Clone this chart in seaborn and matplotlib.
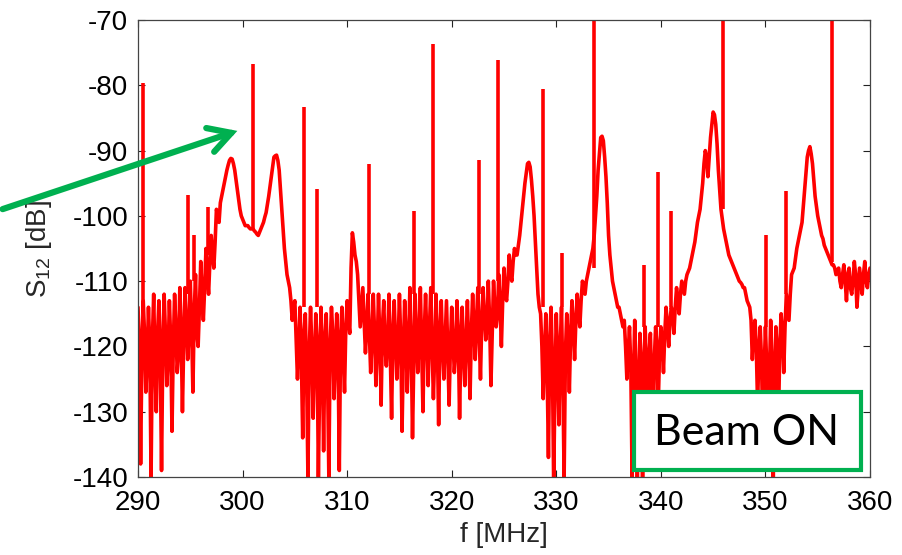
import numpy as np
import pandas as pd
import matplotlib
matplotlib.use("Agg")
import matplotlib.pyplot as plt
from matplotlib.patches import Rectangle, FancyArrowPatch
from matplotlib.transforms import IdentityTransform
import seaborn as sns

# ---- data ----
# samples on the 0.25 MHz grid 290.00 ... 360.00
f_start, f_stop = 290.0, 360.0
s12_db = [
    -114, -138, -113, -127, -114, -140, -112, -130, -113, -139,   # 290.00-292.25
    -112, -126, -113, -133, -112, -124, -111, -130, -111, -122,   # 292.50-294.75
    -110, -127, -109, -120, -107, -116, -105, -112, -103, -108,   # 295.00-297.25
    -99, -101, -97, -95, -93, -91.5, -91.3, -93, -96, -99,        # 297.50-299.75
    -100.5, -101.5, -101.5, -102, -102, -102.5, -103, -102, -101, -99.5,  # 300.00-302.25
    -97, -94, -91, -90.7, -93, -99, -105, -109, -111, -116,       # 302.50-304.75
    -113, -125, -114, -134, -115, -140, -114, -131, -115, -140,   # 305.00-307.25
    -114, -136, -115, -140, -114, -128, -115, -139, -114, -127,   # 307.50-309.75
    -113, -118, -102.6, -106, -109, -117, -111, -121, -112, -124, # 310.00-312.25
    -112, -126, -112, -129, -113, -123, -112, -131, -113, -125,   # 312.50-314.75
    -112, -133, -113, -127, -111, -134, -112, -124, -111, -130,   # 315.00-317.25
    -112, -126, -111, -128, -112, -132, -113, -125, -113, -129,   # 317.50-319.75
    -114, -124, -113, -131, -114, -126, -113, -128, -112, -122,   # 320.00-322.25
    -111, -125, -111, -119, -110, -126, -110, -117, -109, -120,   # 322.50-324.75
    -108, -113, -106, -110, -105, -106, -103, -99, -95, -92,      # 325.00-327.25
    -92.5, -97, -104, -112, -115, -128, -115, -137, -114, -141,   # 327.50-329.75
    -115, -132, -114, -140, -115, -127, -113, -122, -112, -117,   # 330.00-332.25
    -110, -112, -109, -107, -105, -100, -93, -88, -88.5, -94,     # 332.50-334.75
    -103, -108, -111, -113, -114, -116, -116, -125, -117, -140,   # 335.00-337.25
    -116, -141, -118, -141, -117, -132, -118, -136, -117, -129,   # 337.50-339.75
    -117, -124, -114, -120, -114, -118, -111, -115, -110, -112,   # 340.00-342.25
    -109, -108, -106, -104, -101, -99, -95, -90, -94, -88,        # 342.50-344.75
    -84.1, -86, -93, -99, -102, -104, -106, -107, -108, -109,     # 345.00-347.25
    -110, -110.5, -111, -113, -114, -122, -116, -129, -117, -133, # 347.50-349.75
    -117, -137, -116, -140, -117, -131, -115, -124, -112, -116,   # 350.00-352.25
    -109, -108, -105, -103, -101, -96, -91, -89.4, -92, -97,      # 352.50-354.75
    -100, -102, -103.5, -105, -106, -107, -107.5, -109, -108, -111, # 355.00-357.25
    -107.5, -113, -108, -112, -107, -114, -108, -112, -107, -111, # 357.50-359.75
    -108,                                                          # 360.00
]
# samples halfway between, 290.125 ... 359.875
s12_db_mid = [
    -119, -121, -118, -122, -120, -119, -123, -118, -121, -120,   # 290.125-
    -118, -122, -119, -120, -117, -121, -118, -119, -116, -118,   # 292.625-
    -117, -115, -118, -114, -112, -111, -109, -107, -106, -104,   # 295.125-
    -100, -98, -96, -94, -92.2, -91.2, -92, -94.5, -97.5, -100,   # 297.625-
    -101, -101.5, -101.8, -102, -102.3, -102.8, -102.5, -101.5, -100.2, -98.3,  # 300.125-
    -95.5, -92.5, -90.8, -91.5, -96, -102, -107, -110, -113, -114,  # 302.625-
    -119, -120, -122, -118, -124, -121, -120, -123, -119, -125,   # 305.125-
    -121, -119, -124, -120, -118, -122, -120, -119, -121, -117,   # 307.625-
    -116, -108, -104, -107, -113, -114, -116, -117, -118, -119,   # 310.125-
    -118, -120, -119, -117, -120, -119, -121, -118, -119, -120,   # 312.625-
    -119, -121, -118, -120, -119, -122, -118, -119, -120, -118,   # 315.125-
    -119, -117, -120, -121, -119, -118, -120, -119, -121, -120,   # 317.625-
    -119, -121, -118, -120, -121, -119, -120, -118, -117, -116,   # 320.125-
    -118, -116, -115, -117, -116, -118, -114, -115, -114, -113,   # 322.625-
    -112, -110, -109, -107, -106, -104.5, -101, -97, -93.5, -91.8,  # 325.125-
    -94.5, -100, -108, -114, -120, -121, -124, -119, -122, -126,  # 327.625-
    -122, -120, -125, -121, -119, -118, -117, -116, -115, -113,   # 330.125-
    -111, -110, -108, -106, -103, -97, -90.5, -87.8, -91, -98,    # 332.625-
    -106, -110, -112, -114, -115, -117, -120, -121, -123, -126,   # 335.125-
    -124, -127, -122, -125, -124, -121, -126, -122, -120, -121,   # 337.625-
    -119, -118, -117, -116, -115, -114, -113, -112, -111, -110,   # 340.125-
    -108.5, -107, -105, -102.5, -100, -97, -92, -91, -91, -86,    # 342.625-
    -84.5, -89, -96, -100.5, -103, -105, -106.5, -107.5, -108.5, -109.5,  # 345.125-
    -110.2, -111, -112, -113.5, -116, -118, -120, -121, -122, -124,  # 347.625-
    -123, -125, -122, -126, -121, -120, -118, -117, -114, -112,   # 350.125-
    -108.5, -106.5, -104, -102, -98.5, -93.5, -90, -90.5, -94.5, -98.5,  # 352.625-
    -101, -103, -104.5, -105.5, -106.5, -107.5, -108, -108.5, -110, -109,  # 355.125-
    -110, -109, -111, -110, -109, -111, -110, -109, -110, -109,   # 357.625-
]

# narrow carrier lines (spikes)
spike_f    = [290.5, 294.8, 295.4, 296.7, 301.0, 305.9, 307.1, 312.1, 316.4, 318.2, 322.6,
              324.4, 328.7, 330.5, 333.6, 338.4, 339.7, 341.0, 345.9, 350.1, 352.0, 356.4]
spike_top  = [-79.7, -96.8, -102.9, -98.6, -76.7, -83.3, -95.9, -92.1, -99.2, -73.6, -91.4,
              -76.1, -80.6, -105.7, -69.0, -107.6, -93.3, -99.2, -69.0, -102.9, -96.2, -69.0]
spike_base = [-113, -112, -110, -106, -102, -114, -114, -112, -112, -112, -112,
              -110, -114, -114, -108, -117, -117, -114, -99, -117, -112, -107]

x_ticks = [290, 300, 310, 320, 330, 340, 350, 360]
y_ticks = [-140, -130, -120, -110, -100, -90, -80, -70]
x_label = "f [MHz]"
y_label = "S$_{12}$ [dB]"
box_text = "Beam ON"

# ---- figure ----
sns.set_theme(style="ticks")
plt.rcParams["font.family"] = ["Liberation Sans", "DejaVu Sans"]
plt.rcParams["mathtext.fontset"] = "custom"
plt.rcParams["mathtext.rm"] = "Liberation Sans"
plt.rcParams["mathtext.it"] = "Liberation Sans"

W, H = 902, 555
fig = plt.figure(figsize=(W / 100, H / 100), dpi=100)
ax = fig.add_axes([138 / W, 1 - 477 / H, (870 - 138) / W, (477 - 20) / H])

f_main = np.linspace(f_start, f_stop, len(s12_db))
f_mid = np.linspace(f_start + 0.125, f_stop - 0.125, len(s12_db_mid))
df = pd.DataFrame({"f": np.concatenate([f_main, f_mid]),
                   "s12": np.concatenate([s12_db, s12_db_mid])}).sort_values("f")
sns.lineplot(data=df, x="f", y="s12", ax=ax, color="#ff0000", linewidth=2.6,
             estimator=None, sort=False)
ax.vlines(spike_f, spike_base, spike_top, color="#ff0000", linewidth=2.6)

ax.set_xlim(f_start, f_stop)
ax.set_ylim(-140, -70)
ax.set_xticks(x_ticks)
ax.set_yticks(y_ticks)
ax.set_xticklabels([str(t) for t in x_ticks])
ax.set_yticklabels([str(t) for t in y_ticks])
ax.tick_params(direction="in", length=5, width=0.8, top=True, right=True,
               labelsize=20, colors="#222222", labelcolor="black")
ax.tick_params(axis="x", pad=9)
ax.tick_params(axis="y", pad=7)
for s in ax.spines.values():
    s.set_color("#444444")
    s.set_linewidth(0.9)
ax.set_xlabel(x_label, fontsize=20)
ax.set_ylabel(y_label, fontsize=20)
ax.xaxis.set_label_coords(0.5, (477 - 522) / 457)
ax.yaxis.set_label_coords((54 - 138) / 732, 0.5)

# green arrow (figure pixel coordinates)
arr = FancyArrowPatch((0, H - 210), (240, H - 130),
                      arrowstyle="->,head_length=16,head_width=9",
                      color="#00b050", linewidth=4.5, mutation_scale=1,
                      capstyle="round", joinstyle="miter", zorder=10)
arr.set_transform(IdentityTransform())
fig.patches.append(arr)

# "Beam ON" box
rect = Rectangle((634, H - 470), 227, 78, transform=IdentityTransform(),
                 facecolor="white", edgecolor="#00b050", linewidth=3, zorder=10)
fig.patches.append(rect)
fig.text(747 / W, 1 - 433 / H, box_text, ha="center", va="center", fontsize=31,
         family=["Lato", "DejaVu Sans"], color="black", zorder=11)

fig.savefig("out.png", dpi=100)
